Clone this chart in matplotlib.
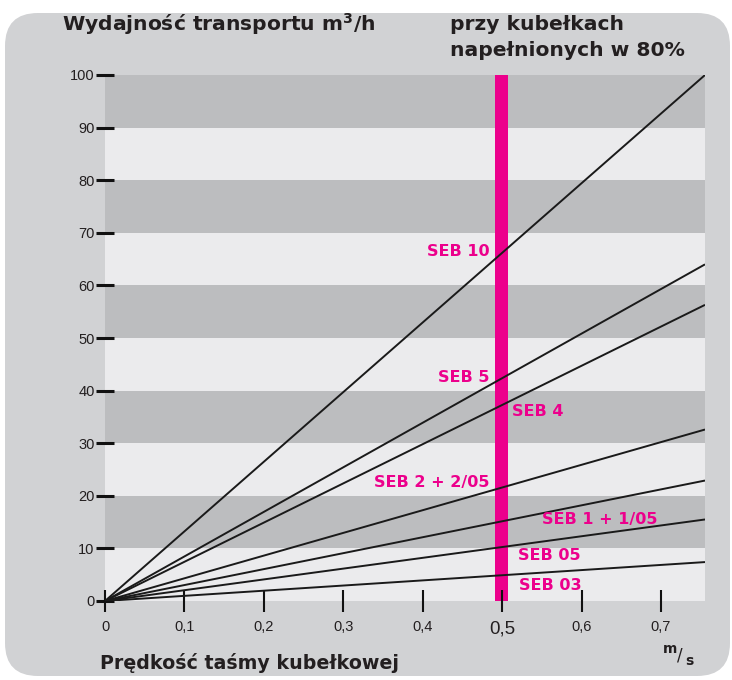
import matplotlib
matplotlib.use("Agg")
import matplotlib.pyplot as plt
from matplotlib.patches import FancyBboxPatch

# ---- data ----
speed_range = [0.0, 0.7555]                      # m/s (x extent of lines)
series_names = ["SEB 10", "SEB 5", "SEB 4", "SEB 2 + 2/05", "SEB 1 + 1/05", "SEB 05", "SEB 03"]
capacity_at_end = [100.0, 64.0, 56.3, 32.6, 22.9, 15.5, 7.4]   # m3/h at right edge
x_ticks = [0, 0.1, 0.2, 0.3, 0.4, 0.5, 0.6, 0.7]
x_tick_labels = ["0", "0,1", "0,2", "0,3", "0,4", "0,5", "0,6", "0,7"]
y_ticks = [0, 10, 20, 30, 40, 50, 60, 70, 80, 90, 100]
dark_bands = [(10, 20), (30, 40), (50, 60), (70, 80), (90, 100)]
marked_speed = 0.5

PANEL = "#d1d2d4"
DARK = "#bcbdbf"
LIGHT = "#ebebed"
PINK = "#ec008c"
TXT = "#231f20"

W, H = 732, 680
fig = plt.figure(figsize=(W / 100, H / 100), dpi=100)
fig.patch.set_facecolor("white")

panel = FancyBboxPatch((5 / W, 4 / H), 725 / W, 663 / H,
                       boxstyle="round,pad=0,rounding_size=0.045",
                       transform=fig.transFigure, facecolor=PANEL, edgecolor="none",
                       mutation_aspect=W / H, zorder=-10)
fig.patches.append(panel)

left, right, bottom, top = 105, 705, 601, 75
ax = fig.add_axes([left / W, (H - bottom) / H, (right - left) / W, (bottom - top) / H])
ax.set_zorder(5)
ax.set_facecolor(LIGHT)
ax.set_xlim(speed_range[0], speed_range[1])
ax.set_ylim(0, 100)
for s in ax.spines.values():
    s.set_visible(False)

for lo, hi in dark_bands:
    ax.axhspan(lo, hi, color=DARK, lw=0, zorder=0.2)

ax.axvspan(marked_speed - 0.0085, marked_speed + 0.0075, color=PINK, lw=0, zorder=1)

for cap in capacity_at_end:
    ax.plot(speed_range, [0, cap], color="#1a1a1a", lw=1.4, zorder=2, solid_capstyle="butt")

ax.set_xticks(x_ticks)
ax.set_xticklabels(x_tick_labels)
ax.set_yticks(y_ticks)
ax.tick_params(axis="y", direction="inout", length=13, width=2.2, color="#111111",
               labelsize=10.5, labelcolor=TXT, pad=1)
ax.tick_params(axis="x", direction="inout", length=16, width=1.5, color="#111111",
               labelsize=10.5, labelcolor=TXT, pad=6)
for lbl in ax.get_xticklabels():
    lbl.set_fontfamily("Liberation Sans")
    if lbl.get_text() == "0,5":
        lbl.set_fontsize(13.5)
for lbl in ax.get_yticklabels():
    lbl.set_fontfamily("Liberation Sans")

# series labels
lab_kw = dict(color=PINK, fontsize=11.5, fontweight="bold", family="DejaVu Sans", va="center")
ax.text(0.4845, 66.5, series_names[0], ha="right", **lab_kw)
ax.text(0.4845, 42.5, series_names[1], ha="right", **lab_kw)
ax.text(0.512, 36, series_names[2], ha="left", **lab_kw)
ax.text(0.4845, 22.5, series_names[3], ha="right", **lab_kw)
ax.text(0.550, 15.5, series_names[4], ha="left", **lab_kw)
ax.text(0.520, 8.6, series_names[5], ha="left", **lab_kw)
ax.text(0.521, 3.0, series_names[6], ha="left", **lab_kw)

# titles
tkw = dict(color=TXT, fontsize=14.6, fontweight="bold", family="DejaVu Sans",
           transform=fig.transFigure)
fig.text(62 / W, 1 - 24 / H, r"Wydajność transportu m$^{\mathbf{3}}$/h", va="center", ha="left", **tkw)
fig.text(450 / W, 1 - 24 / H, "przy kubełkach", va="center", ha="left", **tkw)
fig.text(450 / W, 1 - 51 / H, "napełnionych w 80%", va="center", ha="left", **tkw)
tkw["fontsize"] = 13.7
fig.text(100 / W, 1 - 663 / H, "Prędkość taśmy kubełkowej", va="center", ha="left", **tkw)

ukw = dict(color=TXT, fontsize=10, fontweight="bold", family="DejaVu Sans",
           transform=fig.transFigure, va="center", ha="center")
fig.text(670 / W, 1 - 649 / H, "m", **ukw)
fig.text(680 / W, 1 - 655 / H, "/", color=TXT, fontsize=12, family="DejaVu Sans",
         transform=fig.transFigure, va="center", ha="center")
fig.text(689 / W, 1 - 661 / H, "s", **ukw)

fig.savefig("out.png", dpi=100, facecolor=fig.get_facecolor())
